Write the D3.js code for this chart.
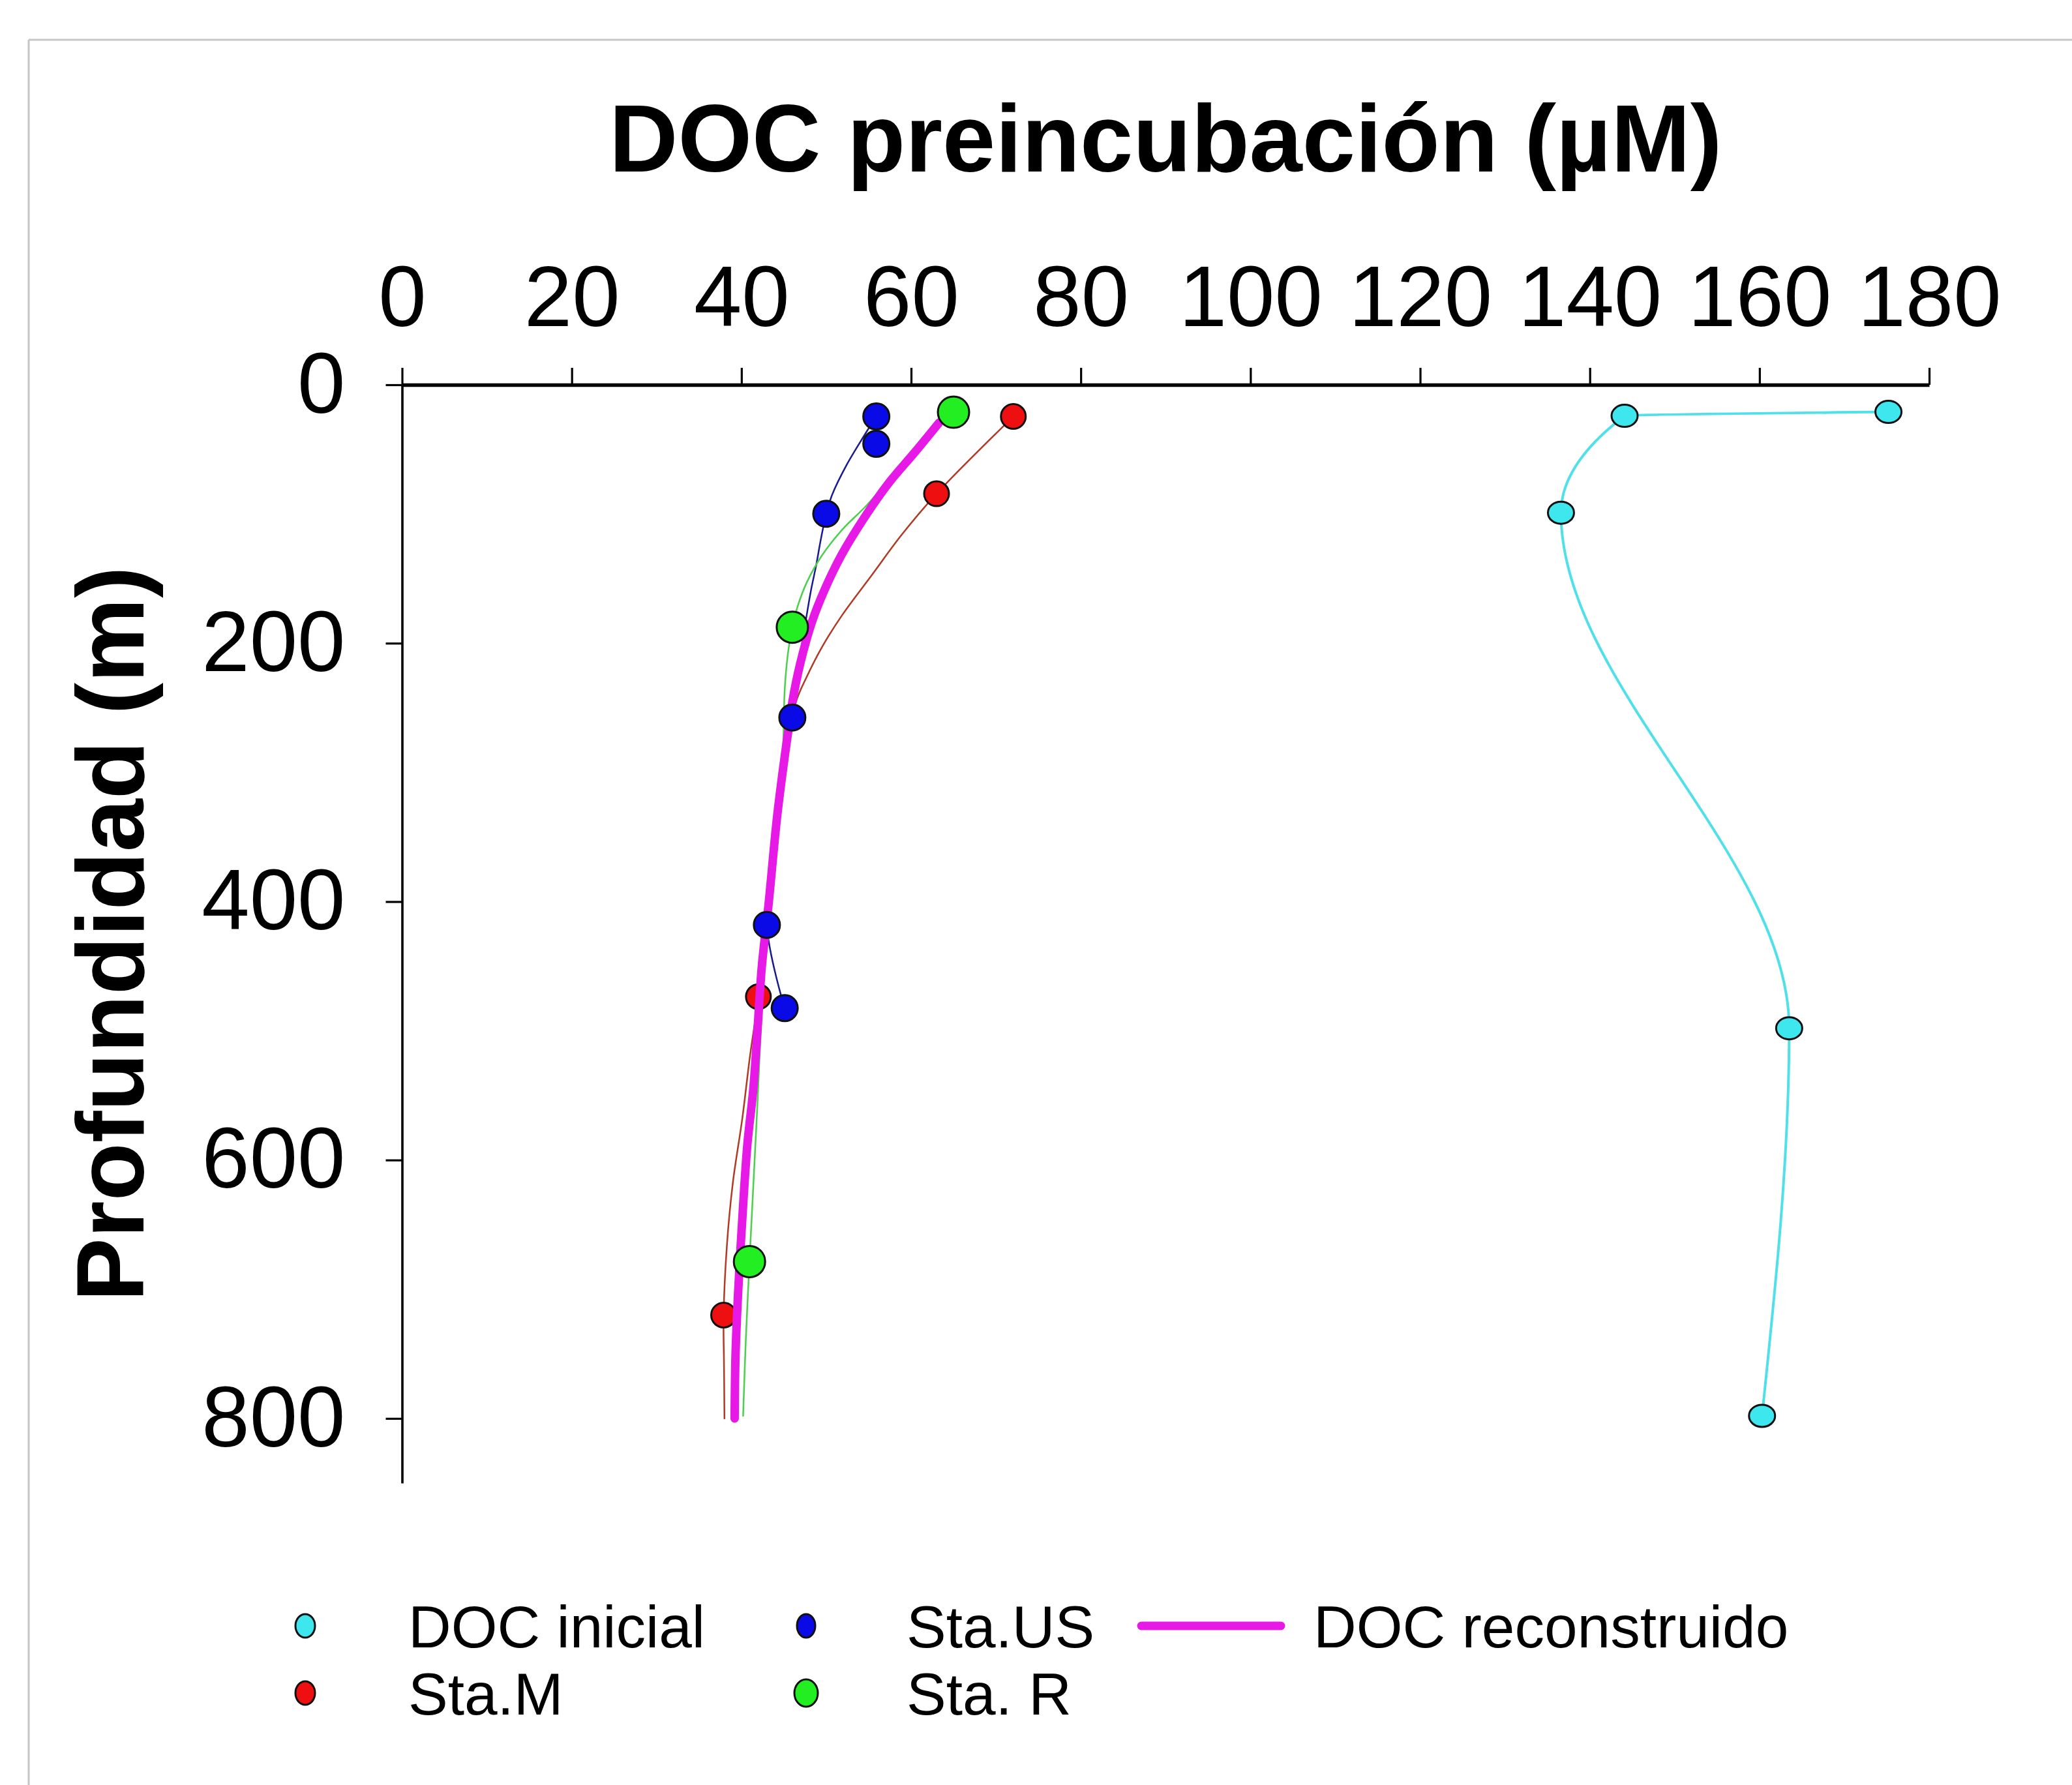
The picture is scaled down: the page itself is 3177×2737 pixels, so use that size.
<!DOCTYPE html>
<html>
<head>
<meta charset="utf-8">
<script src="https://cdn.jsdelivr.net/npm/d3@7"></script>
<style>
  html, body { margin: 0; padding: 0; background: #ffffff; }
  svg { display: block; }
  text { font-family: "Liberation Sans", Arial, Helvetica, sans-serif; fill: #000; }
</style>
</head>
<body>
<svg id="chart" width="3177" height="2737"></svg>
<script>
// ---- Axis ticks ----
const xTicks = [0, 20, 40, 60, 80, 100, 120, 140, 160, 180];
const yTicks = [0, 200, 400, 600, 800];

// ---- DOC inicial (markers, depth in m / DOC in µM) ----
const inicialDepth = [21, 24, 99, 498, 798];
const inicialDOC   = [175.2, 144.1, 136.6, 163.5, 160.3];

// ---- Sta.US ----
const usDepth = [24.5, 45.7, 99.8, 257.5, 418, 482.4];
const usDOC   = [55.9, 55.9, 50.0, 46.0, 43.0, 45.1];
const usCurveDepth = [24.5, 39, 62, 85, 99.8, 120, 140, 159, 178, 215, 257.5, 340, 418, 482.4];
const usCurveDOC   = [55.9, 54.5, 52.4, 50.7, 50.0, 49.35, 48.8, 48.2, 47.7, 46.8, 46.0, 44.3, 43.0, 45.1];

// ---- Sta.M ----
const mDepth = [24.5, 84.3, 473.6, 720];
const mDOC   = [72.05, 63.0, 42.0, 37.9];
const mCurveDepth = [24.5, 84.3, 116, 147, 178, 203, 226, 246, 300, 380, 473.6, 520, 568, 617, 665, 720, 760, 800];
const mCurveDOC   = [72.05, 63.0, 58.9, 55.4, 51.9, 49.5, 47.7, 46.4, 44.8, 43.4, 42.0, 41.0, 40.1, 39.0, 38.3, 37.9, 37.95, 38.0];

// ---- Sta. R ----
const rDepth = [21.2, 187.6, 678.6];
const rDOC   = [65.0, 46.0, 40.95];
const rCurveDepth = [21.2, 50, 93, 112, 132, 153, 172, 187.6, 207, 236, 280, 350, 450, 568, 646, 678.6, 742, 798];
const rCurveDOC   = [65.0, 60.5, 54.8, 51.9, 49.5, 47.7, 46.6, 46.0, 45.5, 45.1, 44.9, 44.0, 42.7, 41.8, 41.2, 40.95, 40.5, 40.2];

// ---- DOC reconstruido ----
const recDepth = [29.3, 52.5, 75.7, 102.7, 131.7, 158.7, 183.8, 216.6, 245.6, 269, 287.7, 334.6, 402, 450.5, 498.8, 545, 588, 645.8, 703.7, 752, 800];
const recDOC   = [63.3, 60.4, 57.4, 54.5, 51.8, 49.8, 48.3, 46.9, 46.0, 45.5, 45.1, 44.2, 43.2, 42.4, 41.9, 41.4, 40.7, 40.1, 39.6, 39.3, 39.2];

// ---- Legend ----
const legendLabels = ["DOC inicial", "Sta.M", "Sta.US", "Sta. R", "DOC reconstruido"];

// ---- Text ----
const titleText = "DOC preincubación (µM)";
const yTitleText = "Profundidad (m)";

const zip = (ds, vs) => ds.map((d, i) => ({ depth: d, doc: vs[i] }));

const svg = d3.select("#chart");

// Frame lines along the top and left edge
svg.append("line").attr("x1", 44).attr("y1", 61).attr("x2", 3177).attr("y2", 61)
  .attr("stroke", "#c6c6c6").attr("stroke-width", 3);
svg.append("line").attr("x1", 44).attr("y1", 61).attr("x2", 44).attr("y2", 2737)
  .attr("stroke", "#c6c6c6").attr("stroke-width", 3);

// Scales: DOC on top, depth increasing downward
const x = d3.scaleLinear().domain([0, 180]).range([616.5, 2958]);
const y = d3.scaleLinear().domain([0, 850]).range([590, 2274]);

// Top axis
const gx = svg.append("g").attr("transform", `translate(0,${y(0)})`)
  .call(d3.axisTop(x).tickValues(xTicks).tickSize(26).tickPadding(64).tickSizeOuter(0));
gx.select(".domain").attr("stroke", "#000").attr("stroke-width", 5.5);
gx.selectAll(".tick line").attr("stroke", "#000").attr("stroke-width", 3.2);
gx.selectAll(".tick text").attr("font-size", 132).attr("font-family", "Liberation Sans, Arial, sans-serif");

// Left axis
const gy = svg.append("g").attr("transform", `translate(${x(0)},0)`)
  .call(d3.axisLeft(y).tickValues(yTicks).tickSize(25).tickPadding(62).tickSizeOuter(0));
gy.select(".domain").attr("stroke", "#000").attr("stroke-width", 3.6);
gy.selectAll(".tick line").attr("stroke", "#000").attr("stroke-width", 3.2);
gy.selectAll(".tick text").attr("font-size", 132).attr("font-family", "Liberation Sans, Arial, sans-serif");

// Titles
svg.append("text").attr("x", (x(0) + x(180)) / 2).attr("y", 263)
  .attr("text-anchor", "middle").attr("font-size", 146).attr("font-weight", "bold")
  .text(titleText);
svg.append("text")
  .attr("transform", `translate(220,${(y(0) + y(850)) / 2}) rotate(-90)`)
  .attr("text-anchor", "middle").attr("font-size", 146).attr("font-weight", "bold")
  .text(yTitleText);

// Line generators (DOC on x, depth on y)
const smooth = d3.line().x(d => x(d.doc)).y(d => y(d.depth)).curve(d3.curveCatmullRom.alpha(0.5));
const monoDepth = d3.line().x(d => x(d.doc)).y(d => y(d.depth)).curve(d3.curveMonotoneY);

const plot = svg.append("g");

function drawCurve(data, gen, color, width) {
  plot.append("path").datum(data).attr("d", gen)
    .attr("fill", "none").attr("stroke", color).attr("stroke-width", width)
    .attr("stroke-linejoin", "round").attr("stroke-linecap", "round");
}
function drawMarkers(data, fill, rx, ry) {
  plot.append("g").selectAll("ellipse").data(data).join("ellipse")
    .attr("cx", d => x(d.doc)).attr("cy", d => y(d.depth))
    .attr("rx", rx).attr("ry", ry)
    .attr("fill", fill).attr("stroke", "#111").attr("stroke-width", 3);
}

// Thin profile curves
drawCurve(zip(inicialDepth, inicialDOC), monoDepth, "#4fe0ea", 4);
drawCurve(zip(usCurveDepth, usCurveDOC), smooth, "#1a1a90", 2.5);
drawCurve(zip(mCurveDepth, mCurveDOC), smooth, "#b03a26", 2.5);
drawCurve(zip(rCurveDepth, rCurveDOC), smooth, "#4ccf4c", 2.5);

drawMarkers(zip(mDepth, mDOC), "#ee1010", 19, 19);

// Reconstructed DOC profile
drawCurve(zip(recDepth, recDOC), smooth, "#e619e6", 13);

drawMarkers(zip(usDepth, usDOC), "#0a0ae6", 20, 20);
drawMarkers(zip(rDepth, rDOC), "#22ee22", 24, 24);
drawMarkers(zip(inicialDepth, inicialDOC), "#3ee6ee", 20, 17);

// Legend
const legend = svg.append("g");
const legendItems = [
  { label: legendLabels[0], kind: "dot", fill: "#3ee6ee", mx: 468, tx: 626, cy: 2493, rx: 15, ry: 18 },
  { label: legendLabels[1], kind: "dot", fill: "#ee1010", mx: 468, tx: 626, cy: 2596, rx: 15, ry: 18 },
  { label: legendLabels[2], kind: "dot", fill: "#0a0ae6", mx: 1236, tx: 1390, cy: 2493, rx: 14, ry: 18 },
  { label: legendLabels[3], kind: "dot", fill: "#22ee22", mx: 1236, tx: 1390, cy: 2596, rx: 18, ry: 21 },
  { label: legendLabels[4], kind: "line", stroke: "#e619e6", mx: 1750, mx2: 1964, tx: 2014, cy: 2493 }
];
legendItems.forEach(it => {
  if (it.kind === "dot") {
    legend.append("ellipse").attr("cx", it.mx).attr("cy", it.cy).attr("rx", it.rx).attr("ry", it.ry)
      .attr("fill", it.fill).attr("stroke", "#111").attr("stroke-width", 3);
  } else {
    legend.append("line").attr("x1", it.mx).attr("x2", it.mx2).attr("y1", it.cy).attr("y2", it.cy)
      .attr("stroke", it.stroke).attr("stroke-width", 13).attr("stroke-linecap", "round");
  }
  legend.append("text").attr("x", it.tx).attr("y", it.cy + 33)
    .attr("font-size", 91).text(it.label);
});
</script>
</body>
</html>
